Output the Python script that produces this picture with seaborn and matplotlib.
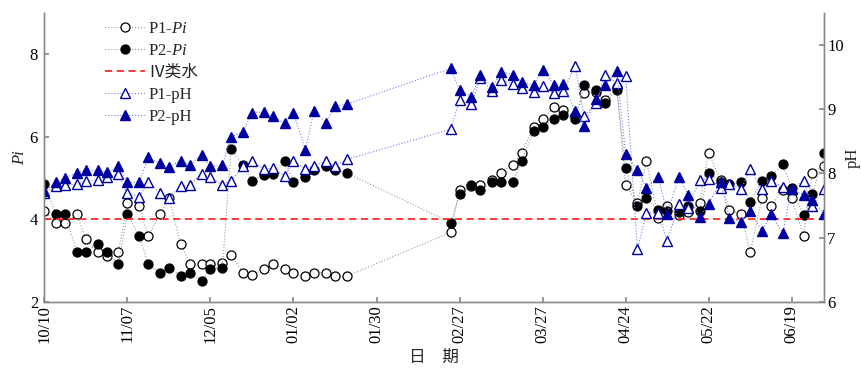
import matplotlib
matplotlib.use("Agg")
import matplotlib.pyplot as plt
import pandas as pd
import seaborn as sns

# sampling days counted from 10/10 (twice a week, gap in Feb)
days = [0, 4, 7, 11, 14, 18, 21, 25, 28, 32, 35, 39, 42, 46, 49, 53, 56, 60, 63, 67,
        70, 74, 77, 81, 84, 88, 91, 95, 98, 102,
        137, 140, 144, 147, 151, 154, 158, 161, 165, 168, 172, 175, 179, 182, 186, 189,
        193, 196, 200, 203, 207, 210, 214, 217, 221, 224, 228, 231, 235, 238, 242, 245,
        249, 252, 256, 259, 263]

p1_pi = [4.21, 3.90, 3.90, 4.12, 3.51, 3.21, 3.11, 3.21, 4.40, 4.31, 3.59, 4.12, 4.52, 3.40,
         2.91, 2.91, 2.91, 2.93, 3.12, 2.70, 2.65, 2.79, 2.91, 2.79, 2.70, 2.62, 2.70, 2.70,
         2.61, 2.62,
         3.68, 4.71, 4.80, 4.82, 4.95, 5.13, 5.32, 5.62, 6.25, 6.44, 6.72, 6.64, 6.50, 7.06,
         7.10, 6.90, 7.20, 4.82, 4.40, 5.42, 4.02, 4.32, 4.10, 4.18, 4.40, 5.62, 4.95, 4.23,
         4.12, 3.20, 4.51, 4.31, 4.71, 4.51, 3.59, 5.13, 5.30]

p2_pi = [4.85, 4.12, 4.12, 3.20, 3.20, 3.40, 3.21, 2.91, 4.12, 3.60, 2.91, 2.70, 2.81, 2.63,
         2.70, 2.50, 2.79, 2.81, 5.71, 5.32, 4.93, 5.08, 5.10, 5.42, 4.91, 5.02, 5.20, 5.30,
         5.20, 5.12,
         3.92, 4.61, 4.82, 4.71, 4.91, 4.91, 4.91, 5.42, 6.15, 6.23, 6.44, 6.53, 6.44, 7.26,
         7.14, 6.83, 7.14, 5.24, 4.32, 4.51, 4.23, 4.20, 4.18, 4.31, 4.20, 5.13, 4.91, 4.85,
         4.91, 4.43, 4.93, 5.05, 5.34, 4.75, 4.10, 4.61, 5.62]

p1_ph = [7.69, 7.81, 7.82, 7.83, 7.88, 7.90, 7.94, 7.99, 7.69, 7.64, 7.86, 7.70, 7.62, 7.80,
         7.82, 7.99, 7.94, 7.82, 7.89, 8.11, 8.19, 8.07, 8.08, 7.96, 8.20, 8.07, 8.12, 8.19,
         8.12, 8.22,
         8.69, 9.15, 9.08, 9.49, 9.29, 9.46, 9.39, 9.33, 9.27, 9.36, 9.25, 9.28, 9.68, 8.89,
         9.10, 9.54, 9.41, 9.52, 6.82, 7.38, 7.39, 6.94, 7.53, 7.46, 7.90, 7.92, 7.78, 7.84,
         7.76, 8.07, 7.76, 7.88, 7.79, 7.75, 7.89, 7.50, 7.76]

p2_ph = [7.72, 7.87, 7.93, 8.01, 8.05, 8.05, 8.02, 8.11, 7.86, 7.86, 8.25, 8.16, 8.10, 8.20,
         8.13, 8.29, 8.11, 8.13, 8.57, 8.65, 8.95, 8.96, 8.89, 8.78, 8.95, 8.37, 8.98, 8.79,
         9.05, 9.08,
         9.64, 9.30, 9.20, 9.54, 9.35, 9.59, 9.54, 9.43, 9.38, 9.62, 9.38, 9.40, 8.97, 8.74,
         9.16, 9.38, 9.60, 8.31, 8.05, 7.78, 7.95, 7.37, 7.95, 7.67, 7.32, 7.53, 7.87, 7.30,
         7.25, 7.41, 7.10, 7.36, 7.07, 7.76, 7.67, 7.59, 7.36]

class4_pi = 4.0
tick_days = [0, 28, 56, 84, 112, 140, 168, 196, 224, 252]
tick_labels = ["10/10", "11/07", "12/05", "01/02", "01/30", "02/27", "03/27", "04/24",
               "05/22", "06/19"]

df = pd.DataFrame({"day": days, "p1_pi": p1_pi, "p2_pi": p2_pi,
                   "p1_ph": p1_ph, "p2_ph": p2_ph})

sns.set_theme(style="ticks")
plt.rcParams["font.family"] = ["Liberation Serif", "Noto Sans CJK SC"]
plt.rcParams["mathtext.fontset"] = "custom"
plt.rcParams["mathtext.rm"] = "Liberation Serif"
plt.rcParams["mathtext.it"] = "Liberation Serif:italic"

fig = plt.figure(figsize=(8.61, 3.68), dpi=100)
ax = fig.add_axes([0.0515, 0.1804, 0.9059, 0.7835])
ax2 = ax.twinx()

grey_line = "#9a9a9a"
blue_line = "#7b7be6"
navy = "#0000a0"

sns.lineplot(data=df, x="day", y="p1_pi", ax=ax, legend=False, label="P1-$\\mathit{Pi}$",
             color=grey_line, lw=0.8, ls=":", marker="o", ms=6.5,
             mfc="white", mec="black", mew=0.9)
sns.lineplot(data=df, x="day", y="p2_pi", ax=ax, legend=False, label="P2-$\\mathit{Pi}$",
             color=grey_line, lw=0.8, ls=":", marker="o", ms=6.5,
             mfc="black", mec="black", mew=0.9)
ax.axhline(class4_pi, color="#ff2a2a", lw=1.3, ls=(0, (4, 2.5)), label="Ⅳ类水")

sns.lineplot(data=df, x="day", y="p1_ph", ax=ax2, legend=False, label="P1-pH",
             color=blue_line, lw=0.8, ls=":", marker="^", ms=7,
             mfc="white", mec=navy, mew=1.0)
sns.lineplot(data=df, x="day", y="p2_ph", ax=ax2, legend=False, label="P2-pH",
             color=blue_line, lw=0.8, ls=":", marker="^", ms=7,
             mfc=navy, mec=navy, mew=1.0)

ax.set_xlim(0, 263)
ax.set_ylim(2, 9)
ax2.set_ylim(6, 10.5)
ax.set_yticks([2, 4, 6, 8])
ax2.set_yticks([6, 7, 8, 9, 10])
ax.set_xticks(tick_days)
ax.set_xticklabels(tick_labels, rotation=90)

spine_col = "#8a8a8a"
for a in (ax, ax2):
    a.spines["top"].set_visible(False)
    for s in ("left", "right", "bottom"):
        a.spines[s].set_color(spine_col)
        a.spines[s].set_linewidth(1.0)
ax.tick_params(axis="both", direction="in", length=3.5, color=spine_col,
               labelsize=12, labelcolor="black")
ax.tick_params(axis="x", pad=2.5)
ax.tick_params(axis="y", pad=4.5)
ax2.tick_params(axis="y", direction="in", length=3.5, color=spine_col,
                labelsize=12, labelcolor="black", pad=2)

ax.set_xlabel("日　期", fontsize=12, family=["Noto Sans CJK SC"], labelpad=4)
ax.set_ylabel("Pi", fontsize=12, style="italic", labelpad=1)
ax2.set_ylabel("pH", fontsize=12, labelpad=1)

h1, l1 = ax.get_legend_handles_labels()
h2, l2 = ax2.get_legend_handles_labels()
ax2.legend(h1 + h2, l1 + l2, loc="upper left", bbox_to_anchor=(0.114, 0.962),
           bbox_transform=fig.transFigure, frameon=False, fontsize=12,
           handlelength=2.4, handletextpad=0.2, labelspacing=0.36, borderaxespad=0)

fig.savefig("out.png", dpi=100)
